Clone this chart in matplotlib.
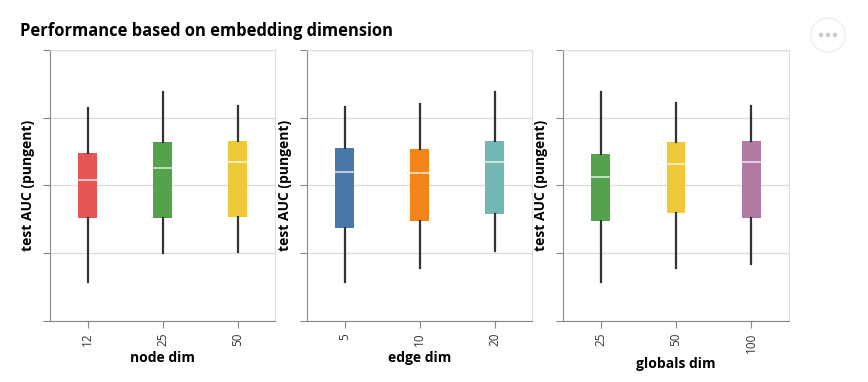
import matplotlib.pyplot as plt
from matplotlib.patches import Circle

# box statistics: whisker low, q1, median, q3, whisker high
node_dims = ["12", "25", "50"]
node_low = [0.629, 0.650, 0.651]
node_q1 = [0.676, 0.676, 0.677]
node_med = [0.704, 0.713, 0.717]
node_q3 = [0.724, 0.732, 0.733]
node_high = [0.757, 0.769, 0.759]

edge_dims = ["5", "10", "20"]
edge_low = [0.629, 0.639, 0.652]
edge_q1 = [0.669, 0.674, 0.679]
edge_med = [0.710, 0.709, 0.717]
edge_q3 = [0.728, 0.727, 0.733]
edge_high = [0.758, 0.760, 0.769]

glob_dims = ["25", "50", "100"]
glob_low = [0.629, 0.639, 0.642]
glob_q1 = [0.674, 0.680, 0.676]
glob_med = [0.706, 0.716, 0.717]
glob_q3 = [0.723, 0.732, 0.733]
glob_high = [0.769, 0.761, 0.759]

node_colors = ["#e45756", "#54a24b", "#eeca3b"]
edge_colors = ["#4c78a8", "#f58518", "#72b7b2"]
glob_colors = ["#54a24b", "#eeca3b", "#b279a2"]

plt.rcParams['font.family'] = ['Open Sans', 'DejaVu Sans']

W, H = 868, 382
fig = plt.figure(figsize=(W / 100, H / 100), dpi=100)


def px_axes(x0, x1, y0, y1):
    return fig.add_axes([x0 / W, 1 - y1 / H, (x1 - x0) / W, (y1 - y0) / H])


def draw_panel(ax, labels, low, q1, med, q3, high, colors, xlabel):
    stats = []
    for i in range(len(labels)):
        stats.append({"whislo": low[i], "q1": q1[i], "med": med[i],
                      "q3": q3[i], "whishi": high[i], "fliers": []})
    pos = list(range(len(labels)))
    res = ax.bxp(stats, positions=pos, widths=0.25, patch_artist=True,
                 showcaps=False, showfliers=False,
                 whiskerprops=dict(color="#333333", linewidth=1.6),
                 medianprops=dict(color="white", linewidth=1.3, alpha=0.7),
                 zorder=3)
    for box, c in zip(res["boxes"], colors):
        box.set_facecolor(c)
        box.set_edgecolor(c)
        box.set_linewidth(0)
    ax.set_xlim(-0.5, len(labels) - 0.5)
    ax.set_ylim(0.6, 0.8)
    ax.set_yticks([0.6, 0.65, 0.7, 0.75, 0.8])
    ax.set_yticklabels([])
    ax.set_xticks(pos)
    ax.set_xticklabels(labels, rotation=90, fontsize=8.5, color="#333333")
    ax.grid(axis="y", color="#dddddd", linewidth=1)
    ax.set_axisbelow(True)
    for s in ["top", "right"]:
        ax.spines[s].set_color("#dddddd")
    for s in ["left", "bottom"]:
        ax.spines[s].set_color("#888888")
    ax.tick_params(axis="both", color="#888888", length=5)
    ax.set_xlabel(xlabel, fontsize=10, fontweight="bold", labelpad=3)
    ax.set_ylabel("test AUC (pungent)", fontsize=10, fontweight="bold", labelpad=2)


ax1 = px_axes(50, 275, 50, 321)
ax2 = px_axes(307, 532, 50, 321)
ax3 = px_axes(563, 789, 50, 321)

draw_panel(ax1, node_dims, node_low, node_q1, node_med, node_q3, node_high,
           node_colors, "node dim")
draw_panel(ax2, edge_dims, edge_low, edge_q1, edge_med, edge_q3, edge_high,
           edge_colors, "edge dim")
draw_panel(ax3, glob_dims, glob_low, glob_q1, glob_med, glob_q3, glob_high,
           glob_colors, "globals dim")

fig.text(20 / W, 1 - 31 / H, "Performance based on embedding dimension",
         fontsize=11.9, fontweight="bold", va="center", ha="left")

# actions menu button in the corner
fig.patches.append(Circle((828, H - 35), 17, transform=None, facecolor="white",
                          edgecolor="#eeeeee", linewidth=1))
for dx in (-7, 0, 7):
    fig.patches.append(Circle((828 + dx, H - 35), 2.3, transform=None,
                              facecolor="#cccccc", edgecolor="none"))

fig.savefig("out.png", dpi=100)
